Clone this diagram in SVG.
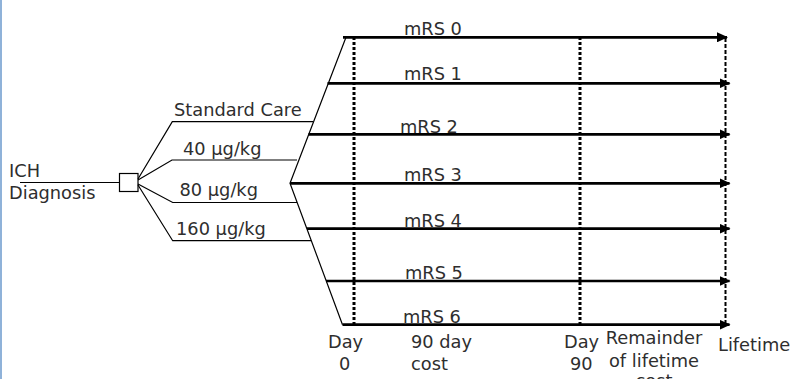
<svg xmlns="http://www.w3.org/2000/svg" width="793" height="379" viewBox="0 0 793 379">
  <style>
    text { font-family: "DejaVu Sans", Verdana, sans-serif; font-size: 17.8px; fill: #2e2e2e; }
    .thin { stroke: #000; stroke-width: 1.2; fill: none; }
    .outcome { stroke: #000; stroke-width: 2.7; fill: none; marker-end: url(#arrow); }
    .milestone { stroke: #000; stroke-width: 3; stroke-dasharray: 3 2; fill: none; }
    .horizon { stroke: #000; stroke-width: 2; stroke-dasharray: 4 2; fill: none; }
    .mid { text-anchor: middle; }
  </style>
  <defs>
    <marker id="arrow" markerUnits="userSpaceOnUse" markerWidth="11" markerHeight="10" refX="10" refY="5" orient="auto">
      <path d="M0,0 L11,5 L0,10 z" fill="#000"/>
    </marker>
  </defs>

  <rect width="793" height="379" fill="#fff"/>
  <!-- left frame edge -->
  <rect x="0" y="0" width="2" height="379" fill="#8fb2d9"/>

  <!-- time markers -->
  <g id="timeline">
    <line class="milestone" x1="354" y1="37" x2="354" y2="326"/>
    <line class="milestone" x1="580" y1="37" x2="580" y2="326"/>
    <line class="horizon" x1="725.5" y1="38" x2="725.5" y2="326"/>
    <text x="328" y="347.5">Day</text>
    <text x="339" y="369.5">0</text>
    <text x="411" y="347.5">90 day</text>
    <text x="411" y="369.5">cost</text>
    <text x="564" y="347.5">Day</text>
    <text x="570" y="369.5">90</text>
    <text class="mid" x="654" y="344">Remainder</text>
    <text class="mid" x="654" y="367">of lifetime</text>
    <text class="mid" x="654" y="387">cost</text>
    <text x="718" y="351">Lifetime</text>
  </g>

  <!-- entry node -->
  <g id="ich-diagnosis">
    <text x="9" y="177">ICH</text>
    <text x="9" y="199">Diagnosis</text>
  </g>

  <!-- treatment decision -->
  <g id="decision">
    <rect x="119.5" y="173.5" width="18.5" height="18" fill="#fff" stroke="#000" stroke-width="1.2"/>
  </g>

  <g id="arm-standard-care">
    <text x="174" y="116">Standard Care</text>
  </g>
  <g id="arm-40">
    <text x="183" y="155">40 μg/kg</text>
  </g>
  <g id="arm-80">
    <text x="179.5" y="196">80 μg/kg</text>
  </g>
  <g id="arm-160">
    <text x="176" y="235">160 μg/kg</text>
  </g>

  <!-- outcome states -->
  <g id="mrs-0"><text x="404" y="35">mRS 0</text></g>
  <g id="mrs-1"><text x="404" y="80">mRS 1</text></g>
  <g id="mrs-2"><text x="400" y="133">mRS 2</text></g>
  <g id="mrs-3"><text x="404" y="181">mRS 3</text></g>
  <g id="mrs-4"><text x="404" y="227">mRS 4</text></g>
  <g id="mrs-5"><text x="405" y="279">mRS 5</text></g>
  <g id="mrs-6"><text x="403" y="322.5">mRS 6</text></g>

  <g id="connectors">
    <!-- diagnosis to decision -->
    <line class="thin" x1="20" y1="182.5" x2="119.5" y2="182.5"/>
    <!-- decision to treatment arms -->
    <polyline class="thin" points="138,179 172.3,121.7 313,121.7"/>
    <polyline class="thin" points="138,180 172,160 297,160"/>
    <polyline class="thin" points="138,184 172.7,202.5 297,202.5"/>
    <polyline class="thin" points="138,185 172.7,240.7 311,240.7"/>
    <!-- chance fan to outcomes -->
    <polyline class="thin" points="346,37.3 290,183.3 342.5,324.7"/>
    <line class="outcome" x1="343" y1="37.3" x2="727" y2="37.3"/>
    <line class="outcome" x1="327.5" y1="83.3" x2="729.5" y2="83.3"/>
    <line class="outcome" x1="308.5" y1="134.3" x2="729.5" y2="134.3"/>
    <line class="outcome" x1="290" y1="183.3" x2="729.5" y2="183.3"/>
    <line class="outcome" x1="307" y1="228.7" x2="729.5" y2="228.7"/>
    <line class="outcome" x1="326" y1="281" x2="729.5" y2="281"/>
    <line class="outcome" x1="342.5" y1="324.7" x2="729.5" y2="324.7"/>
  </g>
</svg>
